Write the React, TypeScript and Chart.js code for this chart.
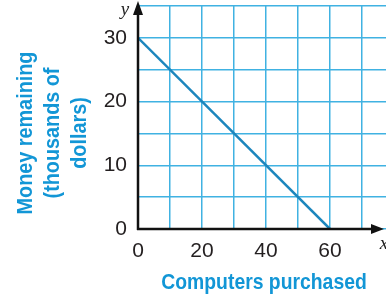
import React, { useEffect, useRef } from "react";
import { Chart, registerables } from "chart.js";

Chart.register(...registerables);

const computers = [0, 60];
const moneyRemaining = [30, 0];
const xTickLabels = [0, 20, 40, 60];
const yTickLabels = [0, 10, 20, 30];
const yTitleLines = ["Money remaining", "(thousands of", "dollars)"];
const xTitle = "Computers purchased";

const BLUE_TITLE = "#1296d6";
const GRID = "#40b2e2";
const LINE = "#1c86bd";
const SANS = "'Liberation Sans', Arial, sans-serif";

const overlay = {
  id: "overlay",
  afterDraw(chart: any) {
    const { ctx } = chart;
    const xs = chart.scales.x;
    const ys = chart.scales.y;
    const x0 = xs.getPixelForValue(0);
    const y0 = ys.getPixelForValue(0);
    const area = chart.chartArea;
    ctx.save();
    ctx.strokeStyle = "#111";
    ctx.fillStyle = "#111";
    ctx.lineWidth = 2.5;
    // y axis
    ctx.beginPath();
    ctx.moveTo(x0, y0 + 1);
    ctx.lineTo(x0, area.top + 4);
    ctx.stroke();
    ctx.beginPath();
    ctx.moveTo(x0, area.top - 5);
    ctx.lineTo(x0 - 5, area.top + 9);
    ctx.lineTo(x0 + 5, area.top + 9);
    ctx.closePath();
    ctx.fill();
    // x axis
    ctx.beginPath();
    ctx.moveTo(x0 - 1, y0);
    ctx.lineTo(area.right - 8, y0);
    ctx.stroke();
    ctx.beginPath();
    ctx.moveTo(area.right - 2, y0);
    ctx.lineTo(area.right - 15, y0 - 5);
    ctx.lineTo(area.right - 15, y0 + 5);
    ctx.closePath();
    ctx.fill();

    // axis letters
    ctx.font = "italic 19px 'Liberation Serif', 'DejaVu Serif', serif";
    ctx.textAlign = "center";
    ctx.textBaseline = "alphabetic";
    ctx.fillStyle = "#222";
    ctx.fillText("y", x0 - 13, 15);
    ctx.fillText("x", area.right - 2, y0 + 20);

    // titles (condensed bold)
    ctx.fillStyle = BLUE_TITLE;
    ctx.font = "bold 22px " + SANS;
    ctx.textAlign = "center";
    ctx.textBaseline = "middle";
    const yCenters = [26, 53, 80];
    yTitleLines.forEach((t, i) => {
      ctx.save();
      ctx.translate(yCenters[i], 133);
      ctx.rotate(-Math.PI / 2);
      ctx.scale(0.9, 1);
      ctx.fillText(t, 0, 0);
      ctx.restore();
    });
    ctx.save();
    ctx.textBaseline = "alphabetic";
    ctx.translate(264, 289);
    ctx.scale(0.88, 1);
    ctx.fillText(xTitle, 0, 0);
    ctx.restore();
    ctx.restore();
  },
};

export default function App() {
  const ref = useRef<HTMLCanvasElement>(null);
  useEffect(() => {
    if (!ref.current) return;
    const chart = new Chart(ref.current, {
      type: "line",
      data: {
        datasets: [
          {
            data: computers.map((c, i) => ({ x: c, y: moneyRemaining[i] })),
            borderColor: LINE,
            borderWidth: 2.5,
            pointRadius: 0,
            fill: false,
          },
        ],
      },
      options: {
        animation: false,
        responsive: false,
        maintainAspectRatio: false,
        layout: { padding: { top: 6, right: 0, left: 0, bottom: 0 } },
        plugins: { legend: { display: false }, tooltip: { enabled: false } },
        scales: {
          x: {
            type: "linear",
            min: 0,
            max: 77.5,
            afterFit: (s: any) => {
              s.height = 67;
              s.paddingLeft = 0;
              s.paddingRight = 0;
            },
            border: { display: false },
            grid: { color: GRID, lineWidth: 1.5, drawTicks: false },
            ticks: {
              stepSize: 10,
              includeBounds: false,
              autoSkip: false,
              maxRotation: 0,
              padding: 10,
              color: "#231f20",
              font: { family: SANS, size: 21 },
              callback: (v: any) => (xTickLabels.includes(v) ? String(v) : ""),
            },
          },
          y: {
            type: "linear",
            min: 0,
            max: 35,
            afterFit: (s: any) => {
              s.width = 138;
              s.paddingTop = 0;
              s.paddingBottom = 0;
            },
            border: { display: false },
            grid: { color: GRID, lineWidth: 1.5, drawTicks: false },
            ticks: {
              stepSize: 5,
              includeBounds: false,
              autoSkip: false,
              padding: 11,
              color: "#231f20",
              font: { family: SANS, size: 21 },
              callback: (v: any) => (yTickLabels.includes(v) ? String(v) : ""),
            },
          },
        },
      },
      plugins: [overlay],
    });
    return () => chart.destroy();
  }, []);
  return (
    <div style={{ position: "fixed", left: 0, top: 0, width: 386, height: 296, background: "#fff" }}>
      <canvas ref={ref} width={386} height={296} style={{ width: 386, height: 296 }} />
    </div>
  );
}
